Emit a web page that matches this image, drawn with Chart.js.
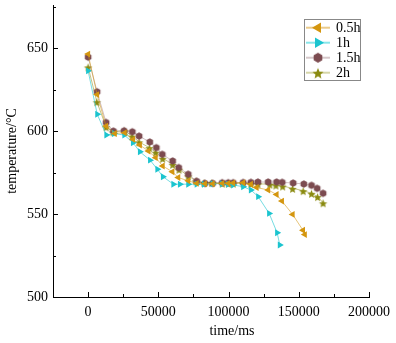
<!DOCTYPE html>
<html>
<head>
<meta charset="utf-8">
<script src="https://cdn.jsdelivr.net/npm/chart.js@4.4.1/dist/chart.umd.min.js"></script>
<style>
  html, body { margin: 0; padding: 0; background: #fff; }
  #wrap { width: 396px; height: 343px; }
</style>
</head>
<body>
<div id="wrap"><canvas id="tempChart" width="396" height="343"></canvas></div>
<script>
// Cooling curves - temperature vs time for four holding times

const seriesNames = ['0.5h', '1h', '1.5h', '2h'];

const time05 = [0, 6400, 12800, 19000, 26100, 32000, 36800, 42900, 48100, 53100, 60000, 64200, 71300, 77300, 83200, 88700, 95500, 99800, 103300, 110400, 115900, 120000, 128200, 134200, 138000, 145600, 153000, 154300];
const temp05 = [646.4, 622, 603, 598.6, 599, 595, 591.6, 588, 584, 579, 575.5, 572, 570, 568.5, 568.3, 568.3, 568.5, 568.5, 568.7, 568.9, 568, 566, 564.5, 561.8, 557.8, 549.8, 540.2, 537.6];

const time1 = [0, 6500, 13000, 18500, 25800, 31900, 36900, 44100, 49300, 53300, 60700, 65400, 71300, 77300, 82500, 88700, 95500, 99800, 103300, 110400, 115900, 121100, 128900, 134600, 136500];
const temp1 = [636.3, 610.1, 597.6, 598.5, 597.6, 593, 587.5, 582.5, 577, 572.5, 568, 568, 568, 568, 568, 568.3, 568.3, 568, 567.5, 566.5, 564.5, 560.5, 550.4, 538.7, 531.3];

const time15 = [0, 6400, 12800, 18000, 25600, 31500, 36300, 43900, 48600, 52800, 60200, 64500, 71300, 77300, 83200, 88700, 95500, 99800, 103300, 110400, 115900, 120900, 128200, 134200, 138200, 146000, 153600, 159100, 163100, 167300];
const temp15 = [644.6, 623.7, 605.2, 600, 600.2, 599.6, 597, 593.4, 590, 586, 582, 578, 574, 569.8, 568.5, 568.5, 568.9, 568.9, 568.9, 569, 569.1, 569.3, 569.3, 569.3, 569.1, 568.7, 568.1, 567.3, 565.5, 562.5];

const time2 = [0, 6200, 12800, 17800, 26100, 31300, 36300, 43600, 48100, 53100, 60200, 64700, 71300, 76800, 82500, 88000, 95500, 99800, 103300, 110400, 115900, 120900, 129400, 133700, 138500, 145600, 153100, 159100, 163400, 167300];
const temp2 = [638.7, 617.7, 602.6, 599.6, 600.2, 597, 593.5, 590, 587.3, 583.6, 580, 577, 573, 570, 569, 569, 568.6, 568.6, 568.6, 568.6, 568.4, 568.2, 568, 567.5, 566.9, 565.5, 564.1, 562.5, 560.5, 556.8];

const xTickValues = [0, 50000, 100000, 150000, 200000];
const yTickValues = [500, 550, 600, 650];

const markerColors = ['#D4960F', '#1BC4CF', '#7C4B50', '#8A8A10'];
const lineColors = ['rgba(212,150,15,0.55)', 'rgba(27,196,207,0.6)', 'rgba(124,75,80,0.35)', 'rgba(138,138,16,0.5)'];
const legendLineColors = ['#EBCB8A', '#88E6EA', '#D6C8CA', '#D6D6A8'];

const FONT = "'Liberation Serif', 'Times New Roman', serif";

function makeHexagon(r, color) {
    const c = document.createElement('canvas');
    const s = Math.ceil(r * 2 + 2);
    c.width = s; c.height = s;
    const g = c.getContext('2d');
    g.fillStyle = color;
    g.beginPath();
    for (let i = 0; i < 6; i++) {
        const a = Math.PI / 3 * i - Math.PI / 2;
        const px = s / 2 + r * Math.cos(a);
        const py = s / 2 + r * Math.sin(a);
        if (i === 0) g.moveTo(px, py); else g.lineTo(px, py);
    }
    g.closePath();
    g.fill();
    return c;
}

function makeStar(r, color) {
    const c = document.createElement('canvas');
    const s = Math.ceil(r * 2 + 2);
    c.width = s; c.height = s;
    const g = c.getContext('2d');
    g.fillStyle = color;
    g.beginPath();
    for (let i = 0; i < 10; i++) {
        const rr = i % 2 === 0 ? r : r * 0.45;
        const a = Math.PI / 5 * i - Math.PI / 2;
        const px = s / 2 + rr * Math.cos(a);
        const py = s / 2 + 1 + rr * Math.sin(a);
        if (i === 0) g.moveTo(px, py); else g.lineTo(px, py);
    }
    g.closePath();
    g.fill();
    return c;
}

const hexPoint = makeHexagon(3.8, markerColors[2]);
const starPoint = makeStar(4.4, markerColors[3]);
const hexLegend = makeHexagon(5, markerColors[2]);
const starLegend = makeStar(5.8, markerColors[3]);

function toPoints(xs, ys) {
    return xs.map((x, i) => ({ x: x, y: ys[i] }));
}

// inward tick marks, axis title and boxed legend
const decorPlugin = {
    id: 'decor',
    afterDraw(chart) {
        const ctx = chart.ctx;
        const xs = chart.scales.x;
        const ys = chart.scales.y;
        const area = chart.chartArea;
        ctx.save();
        ctx.strokeStyle = '#000';
        ctx.lineWidth = 1;
        ctx.beginPath();
        for (let v = -25000; v <= 200000; v += 25000) {
            const px = Math.round(xs.getPixelForValue(v)) + 0.5;
            const len = v % 50000 === 0 ? 5 : 3;
            ctx.moveTo(px, area.bottom);
            ctx.lineTo(px, area.bottom - len);
        }
        for (let v = 500; v <= 675; v += 25) {
            const py = Math.round(ys.getPixelForValue(v)) + 0.5;
            const len = v % 50 === 0 ? 5 : 3;
            ctx.moveTo(area.left, py);
            ctx.lineTo(area.left + len, py);
        }
        ctx.stroke();

        // x axis title
        ctx.fillStyle = '#000';
        ctx.font = '14px ' + FONT;
        ctx.textAlign = 'center';
        ctx.textBaseline = 'middle';
        ctx.fillText('time/ms', 232, 331);

        // legend
        ctx.strokeStyle = '#888';
        ctx.strokeRect(304.5, 19.5, 56, 61);
        const rows = [27.7, 42.7, 57.7, 72.7];
        ctx.textAlign = 'left';
        rows.forEach((ry, i) => {
            ctx.strokeStyle = legendLineColors[i];
            ctx.lineWidth = 2;
            ctx.beginPath();
            ctx.moveTo(306, ry);
            ctx.lineTo(330, ry);
            ctx.stroke();
            ctx.fillStyle = markerColors[i];
            if (i < 2) {
                const r = 6;
                const dir = i === 0 ? -1 : 1;
                ctx.beginPath();
                ctx.moveTo(318 + dir * r, ry);
                ctx.lineTo(318 - dir * r * 0.5, ry - r * 0.87);
                ctx.lineTo(318 - dir * r * 0.5, ry + r * 0.87);
                ctx.closePath();
                ctx.fill();
            } else {
                const img = i === 2 ? hexLegend : starLegend;
                ctx.drawImage(img, 318 - img.width / 2, ry - img.height / 2);
            }
            ctx.fillStyle = '#000';
            ctx.fillText(seriesNames[i], 336, ry + 1);
        });
        ctx.restore();
    }
};

const pointStyles = ['triangle', 'triangle', hexPoint, starPoint];
const pointRotations = [-90, 90, 0, 0];
const xData = [time05, time1, time15, time2];
const yData = [temp05, temp1, temp15, temp2];

new Chart(document.getElementById('tempChart'), {
    type: 'line',
    data: {
        datasets: seriesNames.map((name, i) => ({
            label: name,
            data: toPoints(xData[i], yData[i]),
            borderColor: lineColors[i],
            backgroundColor: markerColors[i],
            borderWidth: 1,
            tension: 0,
            fill: false,
            pointStyle: pointStyles[i],
            pointRotation: pointRotations[i],
            pointRadius: 4,
            pointBorderWidth: 0,
            pointBorderColor: markerColors[i],
            pointBackgroundColor: markerColors[i]
        }))
    },
    options: {
        responsive: false,
        animation: false,
        layout: { padding: { top: 5, right: 27, left: 0, bottom: 0 } },
        plugins: {
            legend: { display: false },
            tooltip: { enabled: false }
        },
        scales: {
            x: {
                type: 'linear',
                min: -25000,
                max: 200000,
                afterBuildTicks: function(scale) {
                    scale.ticks = xTickValues.map(v => ({ value: v }));
                },
                afterFit: function(scale) {
                    scale.height = 46;
                    scale.paddingLeft = 0;
                    scale.paddingRight = 0;
                },
                grid: { display: false, drawTicks: false },
                border: { display: true, color: '#000', width: 1 },
                ticks: {
                    color: '#000',
                    padding: 7,
                    maxRotation: 0,
                    font: { family: FONT, size: 14 },
                    callback: function(value) { return String(value); }
                }
            },
            y: {
                type: 'linear',
                min: 500,
                max: 676,
                afterBuildTicks: function(scale) {
                    scale.ticks = yTickValues.map(v => ({ value: v }));
                },
                afterFit: function(scale) {
                    scale.width = 53;
                    scale.paddingTop = 0;
                    scale.paddingBottom = 0;
                },
                grid: { display: false, drawTicks: false },
                border: { display: true, color: '#000', width: 1 },
                title: {
                    display: true,
                    text: 'temperature/°C',
                    color: '#000',
                    padding: { top: 4, bottom: 0 },
                    font: { family: FONT, size: 14 }
                },
                ticks: {
                    color: '#000',
                    padding: 5,
                    font: { family: FONT, size: 14 },
                    callback: function(value) { return String(value); }
                }
            }
        }
    },
    plugins: [decorPlugin]
});
</script>
</body>
</html>
